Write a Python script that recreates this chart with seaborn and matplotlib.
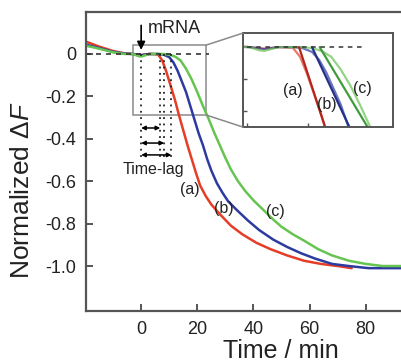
import matplotlib
matplotlib.use("Agg")
import matplotlib.pyplot as plt
import matplotlib.patches as patches
from matplotlib.patches import ConnectionPatch
import seaborn as sns
import numpy as np
import pandas as pd

# traces (time in min, normalized dF)
t_a = [-20, -15, -10, -6, -3, 0, 3, 6, 7.5, 9, 10.5, 12, 13.5, 15, 16.5, 18, 19.5, 21,
       23, 25, 28, 32, 36, 41, 46, 52, 58, 64, 70, 75]
f_a = [0.06, 0.035, 0.014, 0.003, 0.0, -0.005, 0.0, -0.002, -0.03, -0.085, -0.15, -0.215,
       -0.29, -0.36, -0.43, -0.495, -0.56, -0.62, -0.67, -0.71, -0.755, -0.81, -0.85, -0.89,
       -0.92, -0.95, -0.975, -0.99, -1.0, -1.01]

t_b = [-20, -15, -10, -6, -3, 0, 3, 6, 8, 10, 11.5, 13, 14.5, 16, 17.5, 19, 20.5, 22, 23.5,
       25, 27, 29, 31, 34, 38, 42, 47, 52, 57, 62, 68, 74, 81, 93]
f_b = [0.045, 0.028, 0.01, 0.002, 0.0, -0.006, 0.0, 0.0, -0.003, -0.015, -0.04, -0.08, -0.13,
       -0.18, -0.245, -0.31, -0.375, -0.43, -0.495, -0.55, -0.61, -0.655, -0.695, -0.735,
       -0.785, -0.83, -0.875, -0.91, -0.94, -0.965, -0.99, -1.0, -1.01, -1.01]

t_c = [-20, -15, -10, -6, -3, -1, 0, 1, 3, 8, 10, 12, 14, 16, 18, 20, 22, 24, 26, 28, 30, 32,
       34.5, 37, 40, 43.5, 47, 50, 54, 58, 63, 68, 74, 80, 86, 93]
f_c = [0.04, 0.025, 0.008, 0.0, 0.0, -0.01, -0.012, -0.008, 0.0, 0.0, -0.003, -0.012, -0.03,
       -0.07, -0.12, -0.18, -0.245, -0.305, -0.37, -0.43, -0.49, -0.545, -0.6, -0.645, -0.69,
       -0.735, -0.78, -0.815, -0.85, -0.88, -0.92, -0.95, -0.975, -0.99, -1.0, -1.0]

labels = ["(a)", "(b)", "(c)"]
lags = [6.8, 8.2, 10.8]            # time-lag marks in main plot
tan_x0 = [7.3, 10.0, 11.6]         # tangent intercepts shown in inset
tan_slope = [-0.046, -0.032, -0.025]

colors = ["#e63d27", "#2d3ba0", "#66c450"]
dark = ["#b3261c", "#24308a", "#3f9c3c"]

df = pd.concat([
    pd.DataFrame({"t": t_a, "dF": f_a, "trace": "(a)"}),
    pd.DataFrame({"t": t_b, "dF": f_b, "trace": "(b)"}),
    pd.DataFrame({"t": t_c, "dF": f_c, "trace": "(c)"}),
])

sns.set_style("ticks")
plt.rcParams["font.family"] = ["Liberation Sans", "DejaVu Sans"]
plt.rcParams["axes.unicode_minus"] = False
plt.rcParams["mathtext.fontset"] = "custom"
plt.rcParams["mathtext.rm"] = "Liberation Sans"
plt.rcParams["mathtext.it"] = "Liberation Sans:italic"

fig = plt.figure(figsize=(4.01, 3.62), dpi=100)
ax = fig.add_axes([0.2145, 0.1409, 0.79, 0.826])

sns.lineplot(data=df, x="t", y="dF", hue="trace", palette=colors, sort=False,
             estimator=None, legend=False, lw=1.8, ax=ax)

ax.set_xlim(-19.64, 93.2)
ax.set_ylim(-1.212, 0.198)
ax.set_xticks([0, 20, 40, 60, 80])
yt = [0, -0.2, -0.4, -0.6, -0.8, -1.0]
ax.set_yticks(yt)
ax.set_yticklabels(["0", "-0.2", "-0.4", "-0.6", "-0.8", "-1.0"])
ax.tick_params(direction="in", length=5, width=1.4, labelsize=13, pad=7,
               color="#555555", labelcolor="#222222")
for s in ["left", "bottom", "top"]:
    ax.spines[s].set_linewidth(1.6)
    ax.spines[s].set_color("#555555")
ax.spines["right"].set_visible(False)

ax.set_xlabel("Time / min", fontsize=18, color="#222222")
ax.set_ylabel("Normalized \u0394$\\it{F}$", fontsize=19, color="#222222")
ax.xaxis.set_label_coords(0.616, -0.095)
ax.yaxis.set_label_coords(-0.165, 0.405)

# baseline
ax.plot([-19.6, 24], [0, 0], ls=(0, (3, 3)), color="#333333", lw=1.2)

# mRNA injection
ax.annotate("", xy=(0, 0.006), xytext=(0, 0.148),
            arrowprops=dict(arrowstyle="-|>", color="black", lw=1.2, mutation_scale=12))
ax.text(2.2, 0.122, "mRNA", fontsize=13, va="center", ha="left", color="#222222")

# time-lag marks
for x in [0] + lags:
    ax.plot([x, x], [0, -0.49], ls=(0, (1, 2.5)), color="#222222", lw=1.3)
for lag, y in zip(lags, [-0.349, -0.42, -0.476]):
    ax.annotate("", xy=(lag, y), xytext=(0, y),
                arrowprops=dict(arrowstyle="<|-|>", color="black", lw=1.1,
                                mutation_scale=6, shrinkA=0, shrinkB=0))
ax.text(4.3, -0.547, "Time-lag", fontsize=11.5, ha="center", va="center", color="#222222")

for lab, (x, y) in zip(labels, [(17.5, -0.637), (29.3, -0.73), (47.9, -0.745)]):
    ax.text(x, y, lab, fontsize=11.5, ha="center", va="center", color="#222222")

# zoom box
ax.add_patch(patches.Rectangle((-2.9, -0.288), 26.1, 0.33, fill=False,
                               ec="#8a8a8a", lw=1.1))

# inset
axin = fig.add_axes([0.606, 0.649, 0.374, 0.2597])
sns.lineplot(data=df, x="t", y="dF", hue="trace", palette=colors, sort=False,
             estimator=None, legend=False, lw=1.6, alpha=0.7, ax=axin)
for x0, m, c in zip(tan_x0, tan_slope, dark):
    axin.plot([x0, x0 + (-0.25 - 0) / m], [0, -0.25], color=c, lw=1.6)
axin.plot([-3.5, 20.5], [0, 0], ls=(0, (3, 3)), color="#333333", lw=1.1)
axin.set_xlim(-4.4, 26.9)
axin.set_ylim(-0.25, 0.044)
axin.set_xticks([-3.6, 9.1])
axin.set_yticks([-0.1, -0.2])
axin.set_xticklabels([])
axin.set_yticklabels([])
axin.set_xlabel("")
axin.set_ylabel("")
axin.tick_params(direction="in", length=3, width=1, color="#555555")
for s in axin.spines.values():
    s.set_linewidth(1.4)
    s.set_color("#555555")
for lab, (x, y) in zip(labels, [(6.0, -0.137), (13.1, -0.18), (20.6, -0.13)]):
    axin.text(x, y, lab, fontsize=11.5, ha="center", va="center", color="#222222")

for ya, yb in [(1, 0.042), (0, -0.288)]:
    con = ConnectionPatch(xyA=(0, ya), coordsA=axin.transAxes, xyB=(23.2, yb),
                          coordsB=ax.transData, color="#8a8a8a", lw=1.1)
    fig.add_artist(con)

fig.savefig("out.png", dpi=100)
